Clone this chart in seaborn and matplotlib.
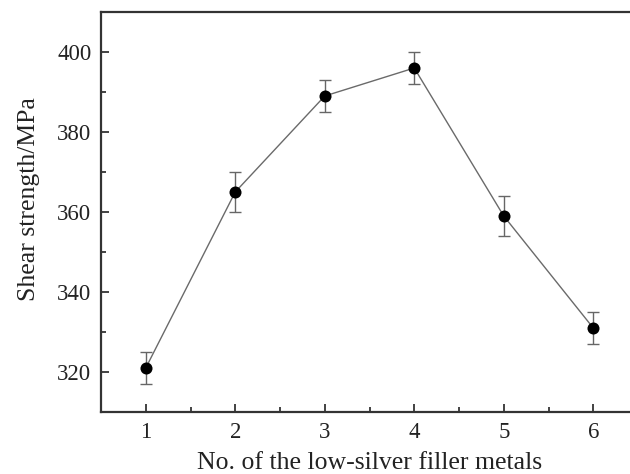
import matplotlib
matplotlib.use("Agg")
import matplotlib.pyplot as plt
import seaborn as sns
import pandas as pd
from matplotlib.ticker import MultipleLocator

filler_no = [1, 2, 3, 4, 5, 6]
shear_strength = [321, 365, 389, 396, 359, 331]
shear_err = [4, 5, 4, 4, 5, 4]

df = pd.DataFrame({"no": filler_no, "strength": shear_strength, "err": shear_err})

sns.set_theme(style="ticks")
plt.rcParams["font.family"] = ["Liberation Serif", "DejaVu Serif"]

fig = plt.figure(figsize=(6.3, 4.74), dpi=100)
left, right, top, bottom = 101, 638, 12, 412
ax = fig.add_axes([left/630, (474-bottom)/474, (right-left)/630, (bottom-top)/474])

ax.errorbar(df["no"], df["strength"], yerr=df["err"], fmt="none",
            ecolor="#666666", elinewidth=1.0, capsize=4, capthick=1.0, zorder=2)
sns.lineplot(data=df, x="no", y="strength", ax=ax, color="#6a6a6a",
             linewidth=1.0, zorder=3)
sns.scatterplot(data=df, x="no", y="strength", ax=ax, color="black",
                s=75, edgecolor="black", linewidth=0, zorder=4)

ax.set_xlim(0.5, 6.5)
ax.set_ylim(310, 410)
ax.xaxis.set_major_locator(MultipleLocator(1))
ax.xaxis.set_minor_locator(MultipleLocator(0.5))
ax.yaxis.set_major_locator(MultipleLocator(20))
ax.yaxis.set_minor_locator(MultipleLocator(10))
ax.set_yticks([320, 340, 360, 380, 400])

ax.tick_params(axis="both", which="major", direction="in", length=6,
               width=1.2, labelsize=16.5, colors="#222222", labelcolor="#222222", pad=7)
ax.tick_params(axis="both", which="minor", direction="in", length=3.5,
               width=1.2, colors="#222222")

for side in ["left", "bottom", "top", "right"]:
    ax.spines[side].set_color("#333333")
    ax.spines[side].set_linewidth(1.6)

ax.set_xlabel("No. of the low-silver filler metals", fontsize=18.5, color="#222222")
ax.set_ylabel("Shear strength/MPa", fontsize=18.5, color="#222222")
ax.xaxis.set_label_coords(0.5, -0.1)
ax.yaxis.set_label_coords(-0.114, 0.533)

fig.savefig("out.png", dpi=100)
